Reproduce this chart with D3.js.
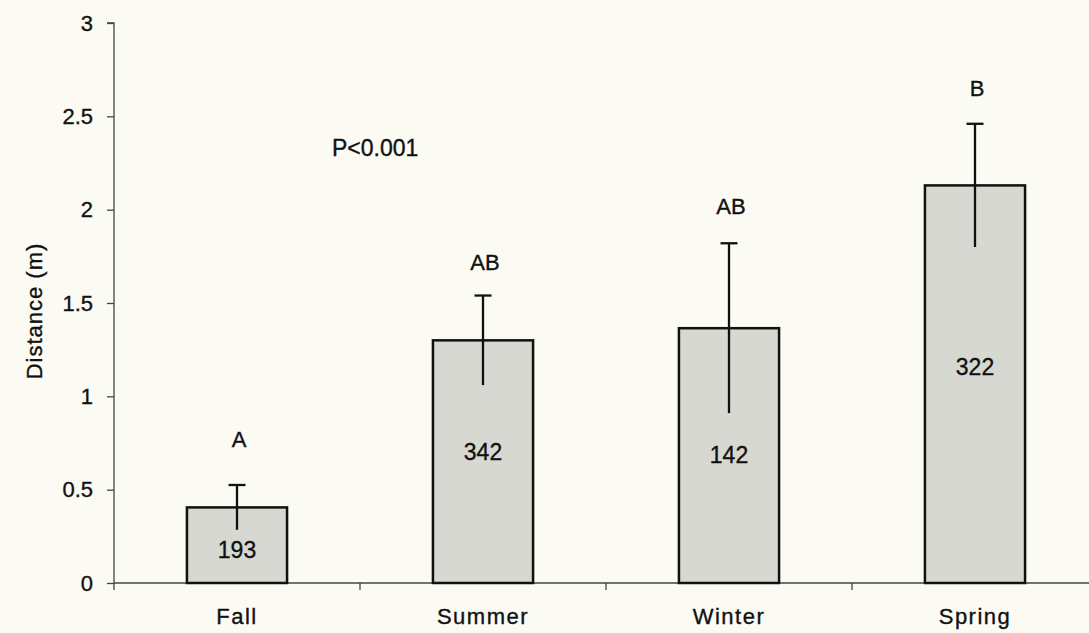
<!DOCTYPE html>
<html>
<head>
<meta charset="utf-8">
<script src="https://cdn.jsdelivr.net/npm/d3@7"></script>
<style>
  html, body { margin: 0; padding: 0; background: #fbfbf4; }
  svg { display: block; }
  text { font-family: "Liberation Sans", Arial, Helvetica, sans-serif; fill: #111; stroke: #111; stroke-width: 0.35px; }
</style>
</head>
<body>
<svg id="chart" width="1089" height="633"></svg>
<script>
// ---- data ----
const categories = ["Fall", "Summer", "Winter", "Spring"];
const means      = [0.405, 1.30, 1.365, 2.13];
const errors     = [0.12, 0.24, 0.455, 0.33];
const sampleSizes = ["193", "342", "142", "322"];
const groupLetters = ["A", "AB", "AB", "B"];
const letterY    = [0.77, 1.72, 2.02, 2.65];   // annotation heights (data units)
const countY     = [0.176, 0.70, 0.684, 1.155]; // annotation heights (data units)
const yTicks     = [0, 0.5, 1, 1.5, 2, 2.5, 3];
const yTickLabels = ["0", "0.5", "1", "1.5", "2", "2.5", "3"];
const yLabel = "Distance (m)";
const pLabel = "P<0.001";
const pLabelY = 2.33;

// ---- layout ----
const svg = d3.select("#chart");
const mLeft = 114, mRight = 1098, mTop = 23, mBottom = 583;

const x = d3.scaleBand().domain(categories).range([mLeft, mRight])
  .paddingInner(0.593).paddingOuter(0.2965);
const y = d3.scaleLinear().domain([0, 3]).range([mBottom, mTop]);

// Y axis
const yAxis = d3.axisLeft(y).tickValues(yTicks)
  .tickFormat((d, i) => yTickLabels[i]).tickSize(7).tickPadding(14);
const gy = svg.append("g").attr("transform", `translate(${mLeft},0)`).call(yAxis);
gy.select(".domain").attr("stroke", "#444").attr("stroke-width", 1.3).attr("d", `M-7,${mTop}H0V${mBottom + 7}`);
gy.selectAll(".tick line").attr("stroke", "#444").attr("stroke-width", 1.3);
gy.selectAll(".tick text").attr("font-size", 22).attr("fill", "#111")
  .style("font-family", '"Liberation Sans", Arial, sans-serif');

// X axis
const boundaries = d3.scaleLinear().domain([0, 4]).range([mLeft, mRight]);
const gx = svg.append("g");
gx.append("line").attr("x1", mLeft).attr("x2", 1089).attr("y1", mBottom).attr("y2", mBottom)
  .attr("stroke", "#444").attr("stroke-width", 1.3);
gx.selectAll("line.xt").data(d3.range(1, 4)).join("line").attr("class", "xt")
  .attr("x1", d => boundaries(d)).attr("x2", d => boundaries(d))
  .attr("y1", mBottom).attr("y2", mBottom + 7)
  .attr("stroke", "#444").attr("stroke-width", 1.3);
gx.selectAll("text.cat").data(categories).join("text").attr("class", "cat")
  .attr("x", d => x(d) + x.bandwidth() / 2).attr("y", 624)
  .attr("text-anchor", "middle").attr("font-size", 22)
  .attr("letter-spacing", 1.5)
  .text(d => d);

// Y label
svg.append("text")
  .attr("transform", `translate(42,311) rotate(-90)`)
  .attr("text-anchor", "middle").attr("font-size", 22).attr("letter-spacing", 1)
  .text(yLabel);

// Bars
const data = categories.map((c, i) => ({ c, m: means[i], e: errors[i], n: sampleSizes[i], l: groupLetters[i], ly: letterY[i], ny: countY[i] }));

svg.selectAll("rect.bar").data(data).join("rect").attr("class", "bar")
  .attr("x", d => x(d.c)).attr("width", x.bandwidth())
  .attr("y", d => y(d.m)).attr("height", d => y(0) - y(d.m))
  .attr("fill", "#d8d8d2").attr("stroke", "#111").attr("stroke-width", 2.5);

// Error bars (upper cap only)
const eg = svg.selectAll("g.err").data(data).join("g").attr("class", "err");
eg.append("line")
  .attr("x1", d => x(d.c) + x.bandwidth() / 2).attr("x2", d => x(d.c) + x.bandwidth() / 2)
  .attr("y1", d => y(d.m - d.e)).attr("y2", d => y(d.m + d.e))
  .attr("stroke", "#111").attr("stroke-width", 2.3);
eg.append("line")
  .attr("x1", d => x(d.c) + x.bandwidth() / 2 - 8.5).attr("x2", d => x(d.c) + x.bandwidth() / 2 + 8.5)
  .attr("y1", d => y(d.m + d.e)).attr("y2", d => y(d.m + d.e))
  .attr("stroke", "#111").attr("stroke-width", 2.3);

// Sample sizes in bars
svg.selectAll("text.n").data(data).join("text").attr("class", "n")
  .attr("x", d => x(d.c) + x.bandwidth() / 2).attr("y", d => y(d.ny))
  .attr("dy", "0.35em").attr("text-anchor", "middle").attr("font-size", 23)
  .text(d => d.n);

// Group letters
svg.selectAll("text.l").data(data).join("text").attr("class", "l")
  .attr("x", d => x(d.c) + x.bandwidth() / 2 + 2).attr("y", d => y(d.ly))
  .attr("dy", "0.35em").attr("text-anchor", "middle").attr("font-size", 22)
  .text(d => d.l);

// P value
svg.append("text").attr("x", 332).attr("y", y(pLabelY)).attr("dy", "0.35em")
  .attr("font-size", 23).text(pLabel);
</script>
</body>
</html>
